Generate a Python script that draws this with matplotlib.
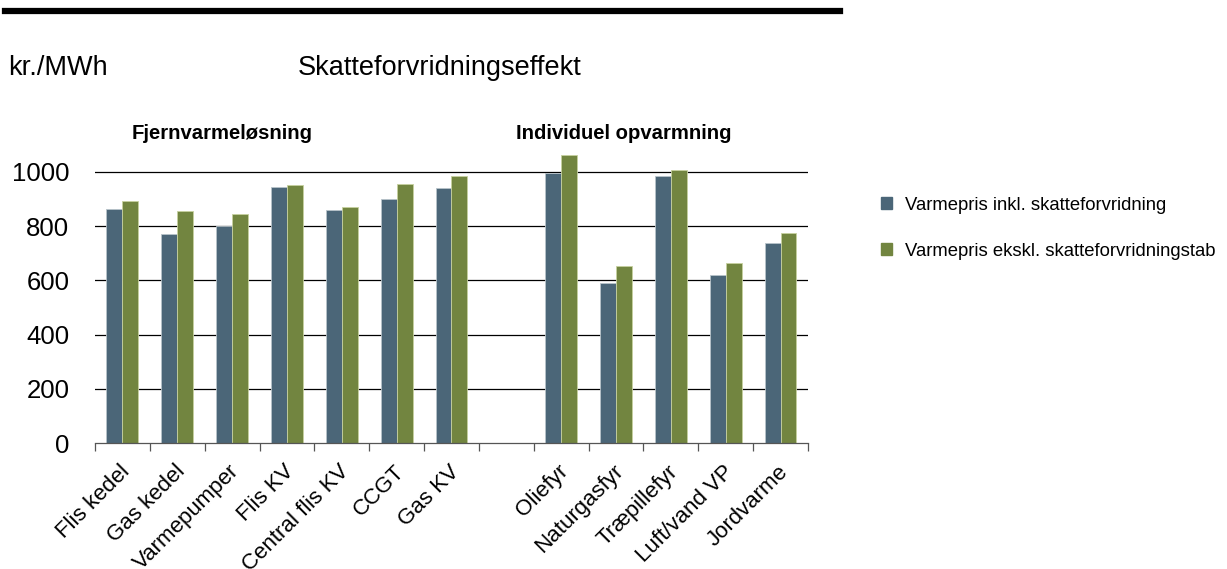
import numpy as np
import matplotlib.pyplot as plt
import matplotlib.transforms as mtransforms
from matplotlib.patches import Patch

plt.rcParams['font.family'] = ['Liberation Sans', 'DejaVu Sans']

# varmepriser, kr./MWh
kategorier = ["Flis kedel", "Gas kedel", "Varmepumper", "Flis KV", "Central flis KV",
              "CCGT", "Gas KV", "", "Oliefyr", "Naturgasfyr", "Træpillefyr",
              "Luft/vand VP", "Jordvarme"]
inkl_forvridning = [864, 771, 800, 945, 860, 899, 939, np.nan, 994, 590, 985, 620, 737]
ekskl_forvridning = [892, 854, 845, 952, 869, 955, 986, np.nan, 1060, 654, 1006, 663, 775]
y_ticks = [0, 200, 400, 600, 800, 1000]

blaa = '#4b6678'
groen = '#728540'

fig = plt.figure(figsize=(12.27, 5.69), dpi=100)
ax = fig.add_axes([0.0774, 0.2214, 0.5811, 0.5244])

x = np.arange(len(kategorier))
w = 0.29
ax.bar(x - w / 2, inkl_forvridning, w, color=blaa, edgecolor='#b8c3ca', linewidth=0.6)
ax.bar(x + w / 2, ekskl_forvridning, w, color=groen, edgecolor='#c7d19f', linewidth=0.6)

ax.set_xlim(-0.5, len(kategorier) - 0.5)
ax.set_ylim(0, 1100)
ax.set_yticks(y_ticks)
ax.set_yticklabels([str(v) for v in y_ticks], fontsize=18.5)
ax.tick_params(axis='y', length=0, pad=18.5)
for v in y_ticks[1:]:
    ax.axhline(v, color='black', linewidth=0.9, zorder=0)

# kategorigrænser som tick-streger, tekst sat separat
ax.set_xticks(np.arange(-0.5, len(kategorier), 1.0))
ax.set_xticklabels([])
ax.tick_params(axis='x', length=6, width=0.9, color='#555555', direction='out')
offset = mtransforms.ScaledTranslation(-0.03, -0.18, fig.dpi_scale_trans)
for xi, navn in zip(x, kategorier):
    ax.text(xi, 0, navn, rotation=45, ha='right', va='top', rotation_mode='anchor',
            fontsize=16, transform=ax.get_xaxis_transform() + offset)

for side in ['left', 'right', 'top']:
    ax.spines[side].set_visible(False)
ax.spines['bottom'].set_color('#555555')
ax.spines['bottom'].set_linewidth(0.9)

ax.text(1.815, 1140, "Fjernvarmeløsning", ha='center', va='center', fontsize=14.6, fontweight='bold')
ax.text(9.15, 1140, "Individuel opvarmning", ha='center', va='center', fontsize=14.6, fontweight='bold')

# overskrift og streg
fig.add_artist(plt.Line2D([0.004, 0.685], [0.981, 0.981], color='black', linewidth=4.5))
fig.text(0.007, 0.88, "kr./MWh", fontsize=19.5, va='center')
fig.text(0.243, 0.88, "Skatteforvridningseffekt", fontsize=19.5, va='center')

handles = [Patch(color=blaa), Patch(color=groen)]
fig.legend(handles, ["Varmepris inkl. skatteforvridning", "Varmepris ekskl. skatteforvridningstab"],
           loc='upper left', bbox_to_anchor=(0.718, 0.654), frameon=False, fontsize=13.3,
           borderpad=0, borderaxespad=0, handlelength=0.6, handleheight=0.6,
           labelspacing=1.57, handletextpad=0.7)

fig.savefig("out.png", dpi=100)
